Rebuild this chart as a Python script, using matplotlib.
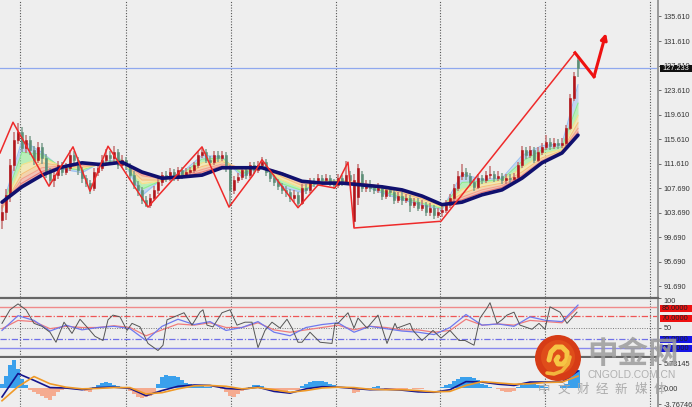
import matplotlib
matplotlib.use("Agg")
import matplotlib.pyplot as plt
import numpy as np

# candles (one bar every 4 px)
opens = [102.5,103.8,106.6,111.4,115.5,116.8,114.2,115.5,113.9,112.3,
         114.4,112.6,110.3,109.0,109.8,111.4,110.3,111.0,113.1,112.3,
         110.6,109.3,108.5,107.7,110.3,111.0,112.3,113.1,112.6,113.6,
         111.4,112.3,111.4,109.8,108.2,107.4,105.8,105.0,106.1,107.4,
         108.7,109.8,109.3,110.3,109.3,110.6,109.8,110.3,110.6,111.4,
         113.1,113.6,112.3,112.0,113.1,112.6,113.1,111.0,107.4,109.0,
         109.5,110.6,109.8,111.4,110.6,111.4,112.0,110.3,109.3,108.7,
         108.0,107.4,107.1,106.1,106.6,105.3,107.7,107.4,108.7,108.5,
         109.3,109.0,109.3,108.7,108.2,109.3,108.7,109.8,102.3,106.2,
         110.0,107.7,108.4,107.7,107.4,107.7,106.4,107.4,107.1,105.8,
         106.4,105.8,106.1,105.0,105.4,104.5,105.0,103.8,104.5,103.3,
         103.8,104.1,105.0,106.1,107.7,109.7,110.3,109.7,108.7,107.9,
         109.3,109.0,109.8,110.0,109.3,109.7,109.0,109.3,109.2,109.5,
         111.4,113.9,113.1,113.9,112.3,113.6,114.4,115.2,114.6,115.0,
         114.7,115.0,117.5,122.3,128.5]
closes = [103.8,106.6,111.4,115.5,116.8,114.2,115.5,113.9,112.3,114.4,
          112.6,110.3,109.0,109.8,111.4,110.3,111.0,113.1,112.3,110.6,
          109.3,108.5,107.7,110.3,111.0,112.3,113.1,112.6,113.6,111.4,
          112.3,111.4,109.8,108.2,107.4,105.8,105.0,106.1,107.4,108.7,
          109.8,109.3,110.3,109.3,110.6,109.8,110.3,110.6,111.4,113.1,
          113.6,112.3,112.0,113.1,112.6,113.1,111.0,107.4,109.0,109.5,
          110.6,109.8,111.4,110.6,111.4,112.0,110.3,109.3,108.7,108.0,
          107.4,107.1,106.1,106.6,105.3,107.7,107.4,108.7,108.5,109.3,
          109.0,109.3,108.7,108.2,109.3,108.7,109.8,109.0,109.0,111.0,
          107.7,108.4,107.7,107.4,107.7,106.4,107.4,107.1,105.8,106.4,
          105.8,106.1,105.0,105.4,104.5,105.0,103.8,104.5,103.3,103.8,
          104.1,105.0,106.1,107.7,109.7,110.3,109.7,108.7,107.9,109.3,
          109.0,109.8,110.0,109.3,109.7,109.0,109.3,109.2,109.5,111.4,
          113.9,113.1,113.9,112.3,113.6,114.4,115.2,114.6,115.0,114.7,
          115.0,117.5,122.3,125.9,127.2]
highs = [105.0,107.6,112.5,116.8,118.2,117.6,116.3,116.2,114.6,115.2,
         115.0,113.3,111.0,110.6,112.1,112.0,111.8,113.9,113.7,112.8,
         111.1,109.9,109.0,111.0,111.6,113.0,114.0,113.7,114.6,114.0,
         113.0,112.8,111.8,110.4,108.8,107.9,106.4,106.8,108.0,109.4,
         110.3,110.4,110.9,110.8,111.2,111.1,110.9,111.2,112.0,113.8,
         114.4,114.0,112.9,113.8,113.7,113.8,113.5,111.4,109.7,110.2,
         111.2,111.1,112.0,112.0,112.1,112.7,112.4,110.8,109.9,109.2,
         108.6,108.0,107.6,107.3,107.0,108.3,108.3,109.3,109.4,110.0,
         109.9,110.0,109.9,109.2,110.0,109.8,112.1,110.4,110.0,111.6,
         110.5,109.0,109.0,108.1,108.5,108.2,108.0,107.9,107.5,107.1,
         107.0,106.8,106.6,106.1,106.0,105.7,105.5,105.2,105.0,104.5,
         105.0,105.8,106.8,108.4,110.5,111.6,111.0,110.2,109.2,110.0,
         109.9,110.5,111.3,110.5,110.4,110.2,110.0,110.0,110.2,112.0,
         114.5,114.4,114.6,114.3,114.3,115.0,116.4,115.8,115.8,115.7,
         115.8,118.0,123.0,126.6,129.0]
lows = [101.0,102.5,105.5,110.5,114.8,113.5,113.4,113.0,111.4,111.8,
        111.6,109.4,108.2,107.8,109.2,109.6,109.8,110.5,111.5,109.9,
        108.6,107.9,106.8,107.2,109.6,110.5,111.8,111.9,112.0,110.8,
        110.9,110.7,109.1,107.5,106.4,105.1,104.6,104.5,105.6,106.8,
        108.1,108.7,108.8,108.8,108.9,109.2,109.3,109.8,110.1,110.9,
        112.6,111.7,111.4,111.5,112.0,112.1,110.3,104.8,106.8,108.5,
        109.0,109.2,109.3,110.0,110.1,110.9,109.7,108.7,108.0,107.3,
        106.7,106.3,105.4,105.5,104.7,104.9,106.8,106.9,107.9,108.0,
        108.4,108.5,108.1,107.5,107.7,108.0,108.2,108.4,101.4,105.0,
        107.0,107.1,107.0,106.7,106.9,105.8,105.9,106.3,105.1,105.2,
        105.0,105.2,103.8,104.5,103.9,103.9,103.1,103.2,102.6,102.8,
        103.0,103.6,104.5,105.6,107.2,109.0,109.0,108.0,107.2,107.5,
        108.4,108.5,109.2,108.7,108.8,108.4,108.4,108.6,108.7,109.0,
        111.0,112.4,112.6,111.7,111.9,113.1,113.9,113.9,114.1,114.0,
        114.2,114.6,117.1,121.8,125.8]

# moving average fan, read every 5 bars
ma_bars = [0,5,10,15,20,25,30,35,40,45,50,55,60,65,70,75,80,85,90,95,100,105,110,115,120,125,130,135,140,144]
ma_blue = [104.5,115.5,113.5,110.8,110.2,112.0,112.4,106.5,109.2,110.2,113.0,112.8,109.5,111.6,107.8,107.0,109.0,108.9,108.2,106.9,105.8,104.9,104.2,110.0,109.1,109.3,113.0,114.6,114.9,124.5]
ma_green = [104.4,113.5,113.2,111.0,110.6,111.8,112.3,107.5,109.0,110.0,112.4,112.6,110.0,111.4,108.4,107.3,108.9,108.9,108.3,107.2,106.1,105.2,104.4,108.6,108.8,109.1,112.0,113.9,114.4,121.5]
ma_yellow = [104.3,111.5,112.6,111.2,110.9,111.6,112.2,108.4,108.9,109.9,111.8,112.3,110.5,111.3,109.0,107.7,108.8,108.9,108.4,107.5,106.5,105.5,104.6,107.5,108.4,108.9,111.0,113.2,114.0,119.5]
ma_orange = [104.4,110.0,111.8,111.3,111.1,111.5,112.1,109.0,109.0,109.8,111.2,112.0,110.8,111.2,109.5,108.1,108.7,108.8,108.5,107.7,106.9,105.9,104.8,106.8,107.9,108.5,110.3,112.6,113.8,118.3]
ma_salmon = [104.6,109.2,111.0,111.3,111.4,111.5,112.0,109.7,109.2,109.7,110.7,111.6,111.0,111.1,109.9,108.5,108.6,108.7,108.5,107.9,107.2,106.2,105.0,106.2,107.4,108.1,109.8,112.2,113.6,117.4]
ma_red = [105.0,108.5,110.4,111.2,111.6,111.5,112.0,110.0,109.3,109.6,110.3,111.3,111.0,111.1,110.2,108.7,108.6,108.6,108.4,108.0,107.3,106.4,105.1,105.8,107.0,107.8,109.6,112.0,113.5,116.8]
ma_navy = [105.4,107.9,109.8,111.1,111.8,111.5,111.9,110.3,109.3,109.5,109.8,111.0,111.0,111.0,110.0,108.8,108.5,108.5,108.2,107.9,107.4,106.4,105.0,105.4,106.6,107.4,109.3,111.8,113.4,116.3]

# red zigzag and the hand drawn arrow
zig_bars = [-0.5,2.75,11.75,17.75,22,26.5,36.5,50,56.75,62.75,65,74,79,83.25,86.5,88,109.75,143.25]
zig_prices = [113.4,118.4,108.0,114.4,107.2,114.5,104.6,114.4,104.6,109.8,112.3,104.5,108.2,107.7,111.9,101.2,102.3,129.7]
arrow_bars = [143.25,148,151]
arrow_prices = [129.7,125.8,132.9]

price_ticks = [135.61,131.61,127.61,123.61,119.61,115.61,111.61,107.69,103.69,99.69,95.69,91.69]
last_price = 127.233
grid_bars = [4.4,31,57.25,83.5,109.5,135.75,162]

# oscillator
rsi_bars = [0,2,4,6,8,10,12,13.5,15.5,17.5,19.5,22,23.25,25.25,26.5,27.75,29.5,31.25,32.5,34.5,36.5,39,40.25,41.25,45.5,47.5,49.5,50.25,51.25,52.75,55,57,58.75,60.75,62.5,64,65.75,67.5,69.5,71.25,72.5,74,75,77,79.5,82.5,83.25,84,85.25,86.5,88,89,91.25,94,96.25,98.25,98.75,102,102.75,105,107.75,109.75,112,114.25,115.75,118,119.5,121.25,122,123.75,125,126.25,128,129.5,132.5,134.25,135.75,137,139.5,141.25,143.75]
rsi_gray = [57,80,90,80,57,52,42,25,59,40,64,45,35,28,63,71,68,45,57,51,23,11,20,63,75,54,76,80,54,51,75,80,54,59,59,16,45,59,49,64,49,25,25,42,25,23,57,57,66,75,49,66,49,71,23,57,49,57,45,28,45,32,45,28,28,20,66,83,92,57,63,71,76,54,47,57,47,85,76,57,76]
rsi_bars2 = [0,4,8,12,16,20,24,28,32,36,40,44,48,52,56,60,64,68,72,76,80,84,88,92,96,100,104,108,112,116,120,124,128,132,136,140,144]
rsi_blue = [45,70,62,44,54,46,50,52,48,28,52,64,55,60,45,50,60,42,36,50,55,58,42,52,48,44,42,38,50,72,54,56,52,68,62,60,88]
rsi_red = [48,62,60,48,52,50,50,53,50,36,46,56,54,58,50,50,58,46,42,46,50,54,46,52,50,46,46,42,45,64,54,56,54,62,60,58,84]

# macd histogram, one value per bar
hist = [1.0,2.8,5.5,6.6,4.5,2.2,0.6,-0.4,-0.9,-1.3,-1.8,-2.4,-2.8,-1.8,-1.0,-0.5,-0.2,-0.1,-0.2,-0.3,
        -0.5,-0.8,-0.9,0.3,0.6,1.2,1.5,1.1,0.7,0.4,0.2,0.1,-0.8,-1.5,-2.0,-2.3,-2.2,-1.8,-1.2,1.0,
        2.5,3.0,2.9,2.8,2.6,2.0,1.2,0.9,0.6,0.5,0.4,0.3,0.2,0.1,0.0,-0.2,-1.0,-1.8,-2.0,-1.5,
        -0.6,-0.3,0.2,0.6,0.8,0.5,-0.2,-0.5,-0.8,-0.9,-0.7,-0.6,-0.5,-0.5,-0.4,0.4,1.0,1.4,1.6,1.7,
        1.6,1.3,1.0,0.7,0.2,0.1,0.1,-0.2,-1.2,-0.9,-0.3,-0.2,-0.2,0.2,0.4,-0.1,-0.2,-0.2,-0.3,-0.2,
        -0.2,-0.2,-0.1,-0.2,-0.2,-0.2,-0.1,-0.1,-0.1,0.1,0.3,0.6,1.0,1.6,2.2,2.6,2.7,2.6,2.4,1.8,
        1.0,0.6,0.3,0.1,-0.2,-0.6,-0.9,-1.0,-0.6,0.3,0.8,1.2,1.2,1.0,0.7,0.4,0.2,0.1,0.1,0.1,
        0.5,1.0,2.5,3.5,4.3]
macd_bars = rsi_bars2
macd_line = [-2.1,3.4,1.8,0.1,0.0,-0.4,0.1,0.2,-0.1,-1.8,-0.6,0.4,0.7,0.6,-0.1,-0.3,0.2,-0.8,-1.2,-0.2,0.3,0.2,-0.1,-0.4,-0.3,-0.5,-0.9,-1.0,-0.4,1.5,1.4,0.9,0.6,1.4,1.4,1.4,4.0]
macd_signal = [-3.0,0.3,2.7,1.0,0.2,-0.2,-0.1,0.1,0.1,-1.4,-1.1,-0.2,0.5,0.6,0.4,-0.2,0.1,-0.4,-1.0,-0.6,0.0,0.2,0.1,-0.3,-0.4,-0.4,-0.6,-0.9,-0.8,0.6,1.5,1.2,0.9,1.0,1.3,1.4,2.8]

bg = "#eeeeee"
W, H = 692.0, 407.0
label_size = 5.3
plt.rcParams["font.family"] = ["Liberation Sans", "DejaVu Sans"]
fig = plt.figure(figsize=(W / 100, H / 100), dpi=100, facecolor=bg)


def panel(top, bottom):
    ax = fig.add_axes([0, 1 - bottom / H, 658 / W, (bottom - top) / H], facecolor=bg)
    ax.set_xlim(-0.5, 164)
    ax.set_xticks([])
    for s in ["left", "top", "bottom"]:
        ax.spines[s].set_visible(False)
    ax.spines["right"].set_color("#999999")
    ax.spines["right"].set_linewidth(1.4)
    ax.tick_params(axis="y", left=False, right=True, labelleft=False, labelright=True,
                   length=2, width=0.6, color="#555555", labelsize=label_size,
                   labelcolor="#333333", pad=2)
    for g in grid_bars:
        ax.axvline(g, color="#555555", lw=0.8, ls=(0, (1, 1.5)), zorder=1)
    return ax


# ---- price panel
ax = panel(0, 297)
ax.set_ylim(89.98, 138.28)
ax.set_yticks(price_ticks)
ax.set_yticklabels(["%.3f" % t for t in price_ticks])
ax.axhline(last_price, color="#8fa8ee", lw=0.9, zorder=1.5)

ribbon = [(ma_blue, "#9cc2f2"), (ma_green, "#8fee8f"), (ma_yellow, "#f6e28a"),
          (ma_orange, "#f7c07c"), (ma_salmon, "#f3a08e"), (ma_red, "#e87c78")]
for (a, ca), (b, cb) in zip(ribbon[:-1], ribbon[1:]):
    ax.fill_between(ma_bars, a, b, color=ca, alpha=0.55, lw=0, zorder=2)
ax.fill_between(ma_bars, ma_red, ma_navy, color="#e87c78", alpha=0.55, lw=0, zorder=2)
for vals, c in ribbon:
    ax.plot(ma_bars, vals, color=c, lw=0.8, zorder=2.5)

bars = np.arange(len(closes))
up = np.array(closes) >= np.array(opens)
body_col = np.where(up, "#b2151b", "#5d8f78")
wick_col = np.where(up, "#c47474", "#7f9f90")
ax.vlines(bars, lows, highs, colors=wick_col, lw=1.1, zorder=3)
ax.bar(bars, np.array(closes) - np.array(opens), bottom=opens, width=0.6, color=body_col,
       edgecolor=body_col, lw=0.4, zorder=3.2)

ax.plot(ma_bars, ma_navy, color="#10106e", lw=2.6, zorder=4, solid_capstyle="round",
        solid_joinstyle="round")
ax.plot(zig_bars, zig_prices, color="#ee2a2a", lw=1.1, zorder=5)
ax.plot(arrow_bars[:2], arrow_prices[:2], color="#ee1111", lw=2.2, zorder=5)
ax.annotate("", xy=(arrow_bars[2], arrow_prices[2]), xytext=(arrow_bars[1], arrow_prices[1]),
            arrowprops=dict(arrowstyle="-|>", color="#ee1111", lw=2.2, mutation_scale=9,
                            shrinkA=0, shrinkB=0), zorder=5)

# ---- rsi panel
ax2 = panel(298, 357)
ax2.set_ylim(0, 100)
for s in ["top", "bottom"]:
    ax2.spines[s].set_visible(True)
    ax2.spines[s].set_color("#666666")
    ax2.spines[s].set_linewidth(1.6)
ax2.set_yticks([100, 50])
ax2.set_yticklabels(["100", "50"])
ax2.get_yticklabels()[0].set_va("top")
ax2.axhline(85, color="#f08a8a", lw=1.0, zorder=2)
ax2.axhline(70, color="#ee5555", lw=0.9, ls=(0, (5, 1.5, 1, 1.5)), zorder=2)
ax2.axhline(50, color="#777777", lw=0.7, ls=(0, (1, 1.5)), zorder=2)
ax2.axhline(30, color="#7070e8", lw=0.9, ls=(0, (5, 1.5, 1, 1.5)), zorder=2)
ax2.axhline(15, color="#8a8aee", lw=1.0, zorder=2)
ax2.plot(rsi_bars2, rsi_red, color="#f07c7c", lw=0.9, zorder=3)
ax2.plot(rsi_bars2, rsi_blue, color="#6f78ee", lw=0.9, zorder=3.1)
ax2.plot(rsi_bars, rsi_gray, color="#555555", lw=0.7, zorder=3.2)

# ---- macd panel
ax3 = panel(358, 407)
ax3.set_ylim(-4.47, 7.06)
ax3.set_yticks([5.73145, 0, -3.76746])
ax3.set_yticklabels(["5.73145", "0.00", "-3.76746"])
hist = np.array(hist)
ax3.bar(np.arange(len(hist)), hist, width=0.9, lw=0, zorder=2,
        color=np.where(hist >= 0, "#3aa0ec", "#f5ab90"))
ax3.plot(macd_bars, macd_line, color="#14148c", lw=1.2, zorder=3)
ax3.plot(macd_bars, macd_signal, color="#f09a28", lw=1.2, zorder=3.1)

# ---- overlay in pixels: value flags and the watermark
top = fig.add_axes([0, 0, 1, 1], facecolor="none", zorder=10)
top.set_xlim(0, W)
top.set_ylim(H, 0)
top.axis("off")


def flag(y0, y1, colour, txt, tc="#222222"):
    top.add_patch(plt.Rectangle((659.5, y0), 32, y1 - y0, color=colour, lw=0))
    top.text(662, (y0 + y1) / 2, txt, color=tc, fontsize=label_size, va="center", ha="left")


flag(64.5, 71.5, "#111111", "127.233", "#ffffff")
flag(305, 311.5, "#ee1111", "85.0000")
flag(315, 321.5, "#ee1111", "70.0000")
flag(336, 342.5, "#1414e6", "30.0000")
flag(345, 351.5, "#1414e6", "15.0000")

top.add_patch(plt.Circle((558, 358), 23, color="#d63c16", lw=0))
top.add_patch(plt.Circle((558, 357), 17, color="#df4d1a", lw=0))
swirl_x = [549, 551, 556, 562, 567, 567, 563, 558, 556, 558]
swirl_y = [360, 352, 347, 347, 352, 359, 364, 364, 360, 357]
top.plot(swirl_x, swirl_y, color="#f6c544", lw=3.6, solid_capstyle="round", solid_joinstyle="round")
top.plot([547, 554, 562, 568, 570], [373, 374, 371, 364, 357], color="#f2b53c", lw=2.6,
         solid_capstyle="round", solid_joinstyle="round")

cjk = ["Noto Sans CJK SC", "DejaVu Sans"]
top.text(633, 354, "中金网", family=cjk, fontsize=22, fontweight="bold", color="#9c9c9c",
         alpha=0.85, ha="center", va="center")
top.text(632, 375, "CNGOLD.COM.CN", fontsize=7.4, color="#b0b0b0", ha="center", va="center")
for k, ch in enumerate("中文财经新媒体"):
    top.text(544 + 19.3 * k, 389, ch, family=cjk, fontsize=9, color="#a4a4a4", alpha=0.9,
             ha="center", va="center")

fig.savefig("out.png", dpi=100, facecolor=bg)
